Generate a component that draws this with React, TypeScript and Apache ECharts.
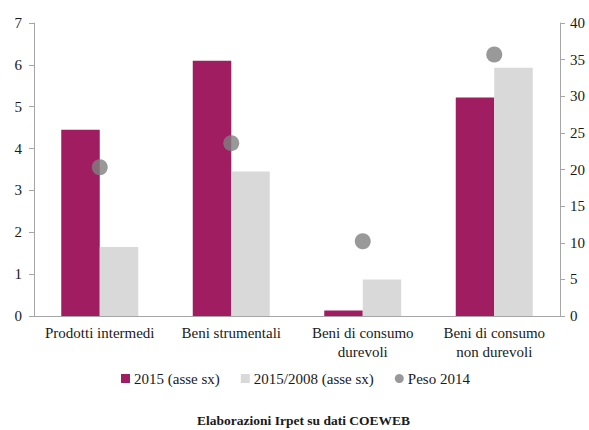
import React, { useEffect, useRef } from "react";
import * as echarts from "echarts";

const categories = [
  "Prodotti intermedi",
  "Beni strumentali",
  "Beni di consumo\ndurevoli",
  "Beni di consumo\nnon durevoli",
];
const values2015 = [4.45, 6.1, 0.13, 5.22];
const values2015_2008 = [1.65, 3.45, 0.87, 5.93];
const peso2014 = [20.3, 23.6, 10.2, 35.7];
const leftTicks = { min: 0, max: 7, interval: 1 };
const rightTicks = { min: 0, max: 40, interval: 5 };

const FONT = "Liberation Serif";
const AXIS_COLOR = "#A6A6A6";
const TEXT_COLOR = "#1a1a1a";

export default function App() {
  const ref = useRef<HTMLDivElement>(null);
  useEffect(() => {
    document.body.style.margin = "0";
    if (!ref.current) return;
    const chart = echarts.init(ref.current, undefined, { renderer: "svg" });
    chart.setOption({
      animation: false,
      textStyle: { fontFamily: FONT },
      grid: { left: 34, right: 29, top: 23, bottom: 114 },
      legend: {
        top: 371,
        left: 121,
        padding: 0,
        itemWidth: 9,
        itemHeight: 9,
        itemGap: 21,
        textStyle: { fontFamily: FONT, fontSize: 15, color: TEXT_COLOR, padding: [0, 0, 0, -1] },
        data: [
          { name: "2015 (asse sx)", icon: "rect" },
          { name: "2015/2008 (asse sx)", icon: "rect" },
          { name: "Peso 2014", icon: "circle" },
        ],
      },
      graphic: [
        {
          type: "text",
          left: 197,
          top: 413,
          style: {
            text: "Elaborazioni Irpet su dati COEWEB",
            fontFamily: FONT,
            fontWeight: "bold",
            fontSize: 13.5,
            fill: TEXT_COLOR,
          },
        },
      ],
      xAxis: {
        type: "category",
        data: categories,
        axisLine: { lineStyle: { color: AXIS_COLOR } },
        axisTick: { length: 5, lineStyle: { color: AXIS_COLOR } },
        axisLabel: {
          fontFamily: FONT,
          fontSize: 15,
          color: TEXT_COLOR,
          margin: 7,
          lineHeight: 19,
          interval: 0,
        },
      },
      yAxis: [
        {
          type: "value",
          min: leftTicks.min,
          max: leftTicks.max,
          interval: leftTicks.interval,
          splitLine: { show: false },
          axisLine: { show: true, lineStyle: { color: AXIS_COLOR } },
          axisTick: { show: true, length: 5, lineStyle: { color: AXIS_COLOR } },
          axisLabel: { fontFamily: FONT, fontSize: 15, color: TEXT_COLOR, margin: 12 },
        },
        {
          type: "value",
          min: rightTicks.min,
          max: rightTicks.max,
          interval: rightTicks.interval,
          position: "right",
          splitLine: { show: false },
          axisLine: { show: true, lineStyle: { color: AXIS_COLOR } },
          axisTick: { show: true, length: 5, lineStyle: { color: AXIS_COLOR } },
          axisLabel: { fontFamily: FONT, fontSize: 15, color: TEXT_COLOR, margin: 10 },
        },
      ],
      series: [
        {
          name: "2015 (asse sx)",
          type: "bar",
          data: values2015,
          yAxisIndex: 0,
          barWidth: 38.5,
          barGap: "0%",
          itemStyle: { color: "#A01D62" },
        },
        {
          name: "2015/2008 (asse sx)",
          type: "bar",
          data: values2015_2008,
          yAxisIndex: 0,
          barWidth: 38.5,
          barGap: "0%",
          itemStyle: { color: "#D9D9D9" },
        },
        {
          name: "Peso 2014",
          type: "scatter",
          data: peso2014,
          yAxisIndex: 1,
          symbol: "circle",
          symbolSize: 16,
          itemStyle: { color: "#808080" },
          z: 5,
        },
      ],
    });
    return () => chart.dispose();
  }, []);
  return <div ref={ref} style={{ width: 589, height: 430 }} />;
}
